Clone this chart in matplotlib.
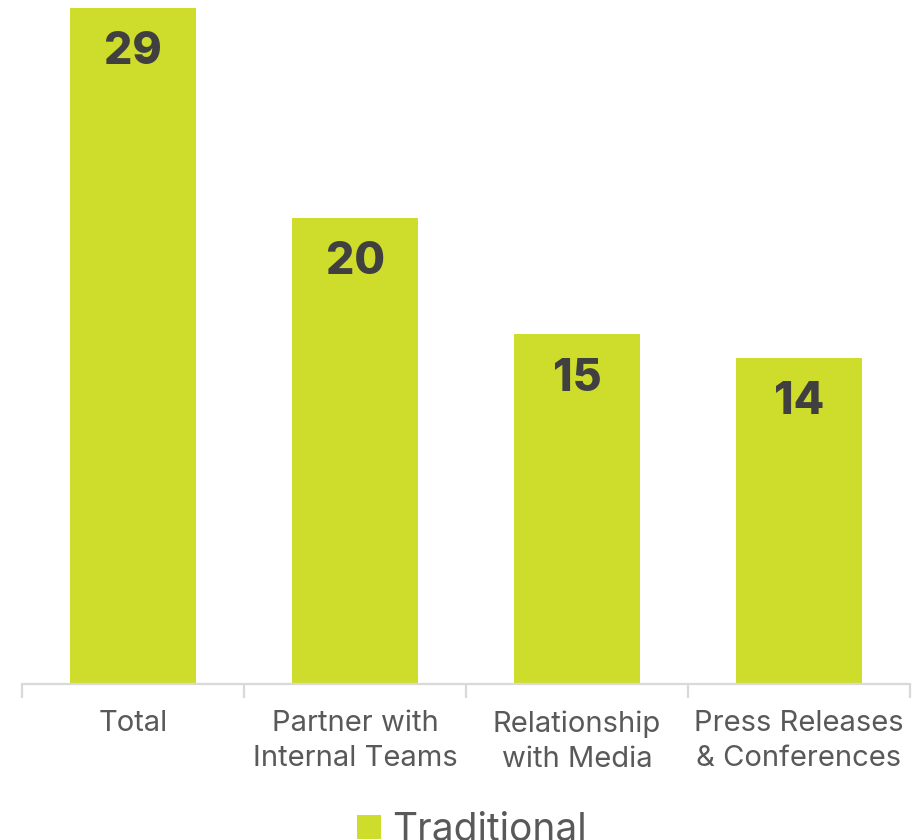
import matplotlib
matplotlib.use("Agg")
import matplotlib.pyplot as plt
from matplotlib.patches import Patch

categories = ["Total", "Partner with\nInternal Teams", "Relationship\nwith Media", "Press Releases\n& Conferences"]
values = [29, 20, 15, 14]
series_name = "Traditional"

bar_color = "#CEDC2C"
text_grey = "#595959"
value_color = "#404040"

plt.rcParams['font.family'] = ['Inter', 'DejaVu Sans']

fig = plt.figure(figsize=(9.17, 8.4), dpi=100)
ax = fig.add_axes([22/917, 1 - 684/840, (910-22)/917, 684/840])

x = list(range(len(categories)))
bars = ax.bar(x, values, width=0.572, color=bar_color)
ax.set_xlim(-0.5, len(categories) - 0.5)
ax.set_ylim(0, 29.34)

for xi, v in zip(x, values):
    ax.annotate(str(v), (xi, v), xytext=(0, -32), textcoords="offset points",
                ha="center", va="center", fontsize=32, fontweight="heavy", color=value_color)

for s in ["top", "right", "left"]:
    ax.spines[s].set_visible(False)
ax.spines["bottom"].set_color("#D9D9D9")
ax.spines["bottom"].set_linewidth(1.6)
ax.set_yticks([])
ax.set_xticks(x)
ax.set_xticklabels(categories, fontsize=21, color=text_grey, linespacing=1.38)
ax.tick_params(axis="x", which="major", length=0, pad=19)
ax.set_xticks([i - 0.5 for i in range(len(categories) + 1)], minor=True)
ax.tick_params(axis="x", which="minor", length=10, width=1.6, color="#D9D9D9")

handle = Patch(facecolor=bar_color, edgecolor="none")
fig.legend([handle], [series_name], loc="lower center", bbox_to_anchor=(0.515, -0.052),
           frameon=False, fontsize=28, labelcolor=text_grey,
           handlelength=0.6, handleheight=0.6, handletextpad=0.3)

fig.savefig("out.png", dpi=100)
